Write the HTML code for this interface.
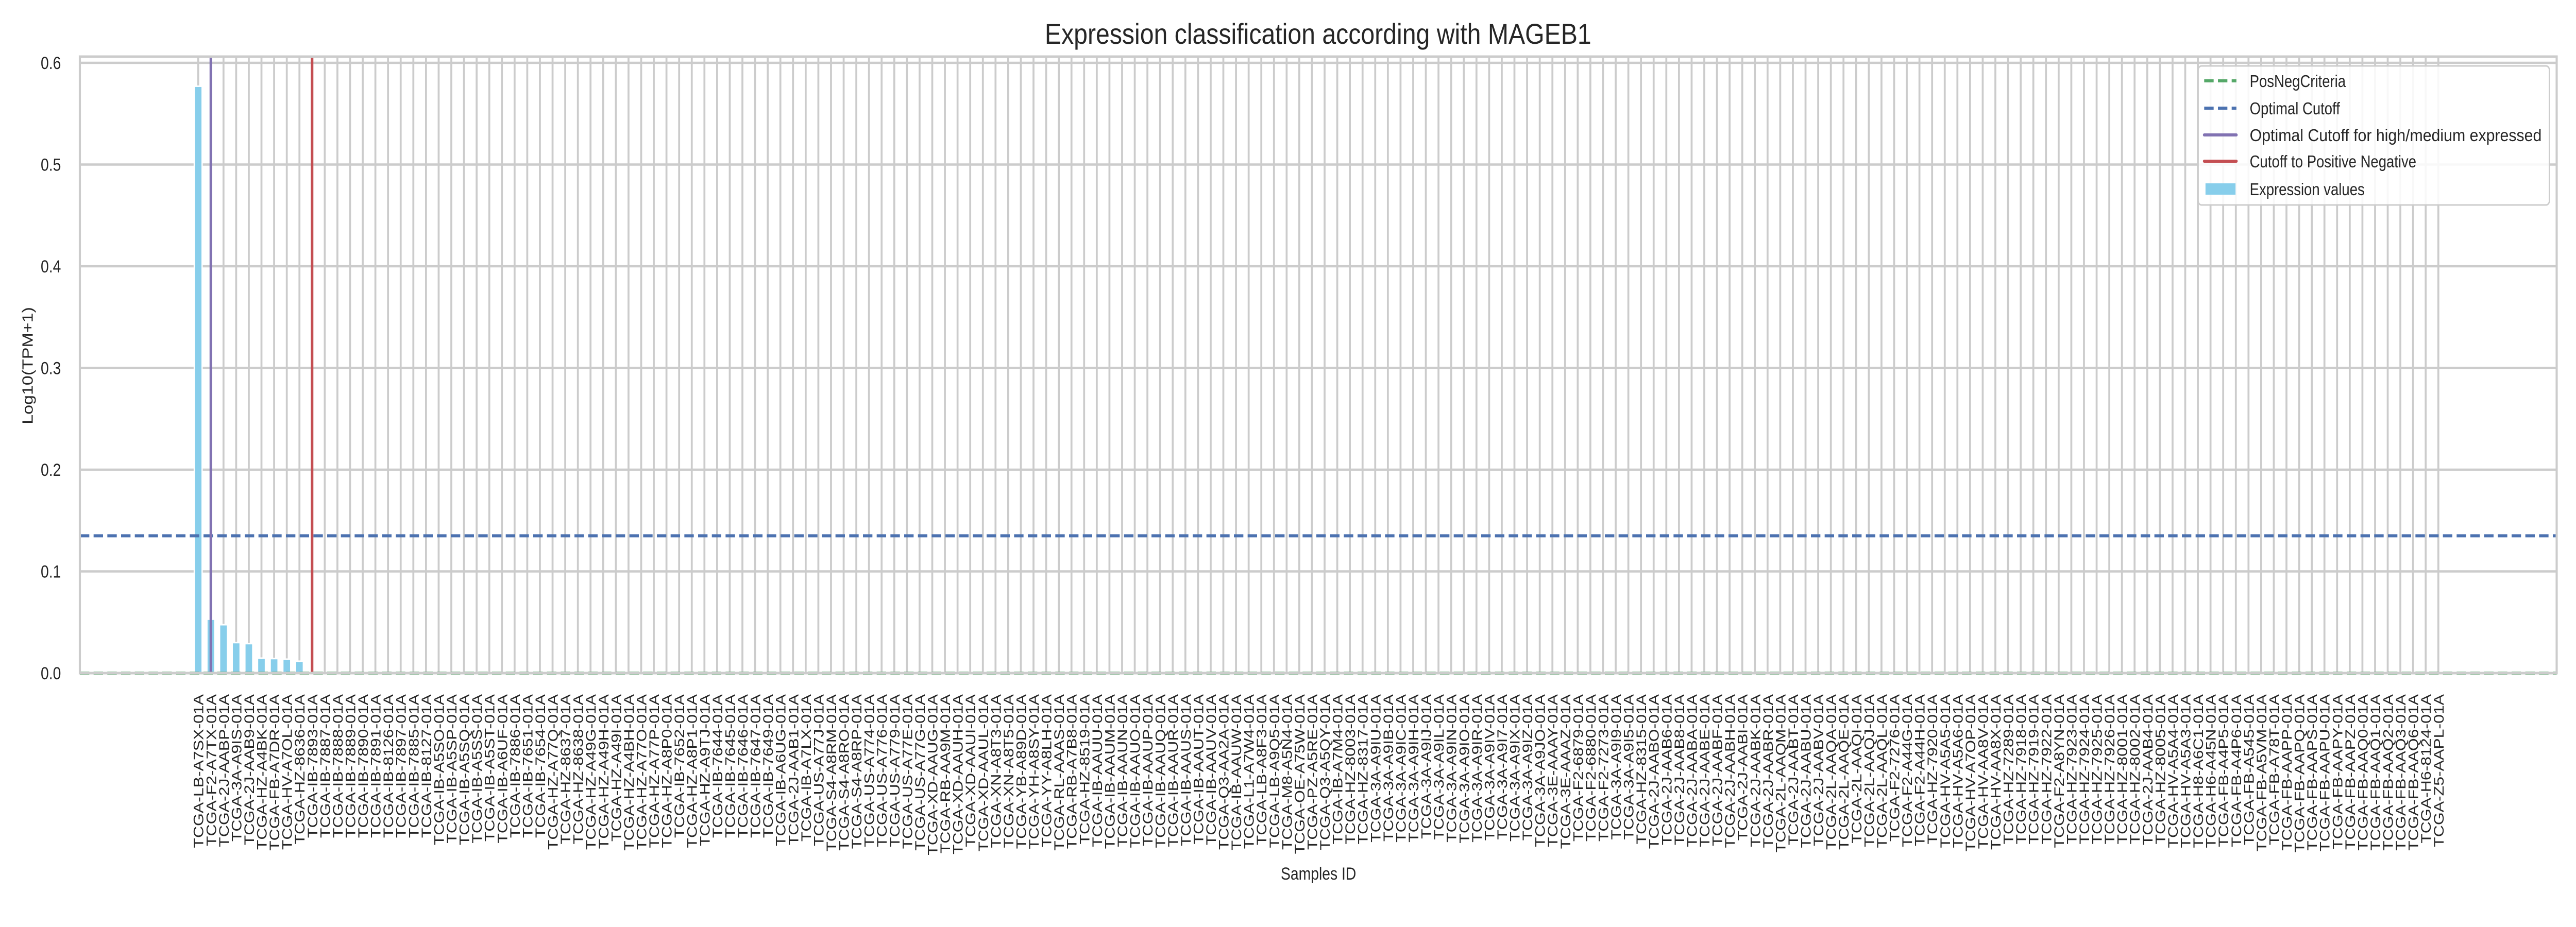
<!DOCTYPE html>
<html><head><meta charset="utf-8"><style>
html,body{margin:0;padding:0;background:#fff;width:100vw;height:100vh;overflow:hidden;}
svg{display:block;width:100vw;height:100vh;font-family:"Liberation Sans",Arial,sans-serif;}
</style></head><body>
<svg id="chart" viewBox="0 0 6000 1800" preserveAspectRatio="none" xmlns="http://www.w3.org/2000/svg">
<rect x="0" y="0" width="6000" height="1800" fill="#fff"/>
<g id="grid"></g>
<g id="bars"></g>
<g id="lines"></g>
<g id="axes"></g>
<text x="3070" y="85" text-anchor="middle" font-size="56" fill="#262626" textLength="1273" lengthAdjust="spacingAndGlyphs">Expression classification according with MAGEB1</text>
<text x="3071" y="1708" text-anchor="middle" font-size="34" fill="#262626">Samples ID</text>
<text x="0" y="0" transform="translate(76,710) rotate(-90)" text-anchor="middle" font-size="34" fill="#262626">Log10(TPM+1)</text>
<g id="legend">
<rect x="5120" y="128" width="818" height="270" rx="8" fill="#fff" fill-opacity="0.85" stroke="#cccccc" stroke-width="3"/>
<g><line x1="5134" y1="157" x2="5209" y2="157" stroke="#55a868" stroke-width="6" stroke-dasharray="22,10"/><text x="5240" y="169" font-size="33" fill="#262626">PosNegCriteria</text></g>
<g><line x1="5134" y1="210" x2="5209" y2="210" stroke="#4c72b0" stroke-width="6" stroke-dasharray="22,10"/><text x="5240" y="222" font-size="33" fill="#262626">Optimal Cutoff</text></g>
<g><line x1="5134" y1="262" x2="5209" y2="262" stroke="#8172b2" stroke-width="6" stroke-linecap="round"/><text x="5240" y="274" font-size="33" fill="#262626" textLength="680" lengthAdjust="spacingAndGlyphs">Optimal Cutoff for high/medium expressed</text></g>
<g><line x1="5134" y1="313" x2="5209" y2="313" stroke="#c44e52" stroke-width="6" stroke-linecap="round"/><text x="5240" y="325" font-size="33" fill="#262626">Cutoff to Positive Negative</text></g>
<g><rect x="5137" y="356" width="70" height="22" fill="#87ceeb"/><text x="5240" y="379" font-size="33" fill="#262626">Expression values</text></g>
</g>
</svg>
<script>
const categories = ["LB-A7SX","F2-A7TX","2J-AABP","3A-A9IS","2J-AAB9","HZ-A4BK","FB-A7DR","HV-A7OL","HZ-8636",
"IB-7893","IB-7887","IB-7888","IB-7889","IB-7890","IB-7891","IB-8126","IB-7897","IB-7885","IB-8127",
"IB-A5SO","IB-A5SP","IB-A5SQ","IB-A5SS","IB-A5ST","IB-A6UF","IB-7886","IB-7651","IB-7654",
"HZ-A77Q","HZ-8637","HZ-8638","HZ-A49G","HZ-A49H","HZ-A49I","HZ-A4BH","HZ-A77O","HZ-A77P","HZ-A8P0",
"IB-7652","HZ-A8P1","HZ-A9TJ","IB-7644","IB-7645","IB-7646","IB-7647","IB-7649","IB-A6UG","2J-AAB1",
"IB-A7LX","US-A77J","S4-A8RM","S4-A8RO","S4-A8RP","US-A774","US-A776","US-A779","US-A77E","US-A77G",
"XD-AAUG","RB-AA9M","XD-AAUH","XD-AAUI","XD-AAUL","XN-A8T3","XN-A8T5","YB-A89D","YH-A8SY",
"YY-A8LH","RL-AAAS","RB-A7B8","HZ-8519","IB-AAUU","IB-AAUM","IB-AAUN","IB-AAUO","IB-AAUP","IB-AAUQ",
"IB-AAUR","IB-AAUS","IB-AAUT","IB-AAUV","Q3-AA2A","IB-AAUW","L1-A7W4","LB-A8F3","LB-A9Q5","M8-A5N4",
"OE-A75W","PZ-A5RE","Q3-A5QY","IB-A7M4","HZ-8003","HZ-8317","3A-A9IU","3A-A9IB","3A-A9IC","3A-A9IH",
"3A-A9IJ","3A-A9IL","3A-A9IN","3A-A9IO","3A-A9IR","3A-A9IV","3A-A9I7","3A-A9IX","3A-A9IZ","3A-A9JO",
"3E-AAAY","3E-AAAZ","F2-6879","F2-6880","F2-7273","3A-A9I9","3A-A9I5","HZ-8315","2J-AABO","2J-AAB6",
"2J-AAB8","2J-AABA","2J-AABE","2J-AABF","2J-AABH","2J-AABI","2J-AABK","2J-AABR","2L-AAQM","2J-AABT",
"2J-AABU","2J-AABV","2L-AAQA","2L-AAQE","2L-AAQI","2L-AAQJ","2L-AAQL","F2-7276","F2-A44G","F2-A44H",
"HZ-7920","HV-A5A5","HV-A5A6","HV-A7OP","HV-AA8V","HV-AA8X","HZ-7289","HZ-7918","HZ-7919","HZ-7922",
"F2-A8YN","HZ-7923","HZ-7924","HZ-7925","HZ-7926","HZ-8001","HZ-8002","2J-AAB4","HZ-8005","HV-A5A4",
"HV-A5A3","H8-A6C1","H6-A45N","FB-A4P5","FB-A4P6","FB-A545","FB-A5VM","FB-A78T","FB-AAPP","FB-AAPQ",
"FB-AAPS","FB-AAPU","FB-AAPY","FB-AAPZ","FB-AAQ0","FB-AAQ1","FB-AAQ2","FB-AAQ3","FB-AAQ6","H6-8124","Z5-AAPL"];
const topValues = [0.577,0.053,0.0476,0.030,0.029,0.0147,0.0143,0.0137,0.0117];
const yTicks = [0.0,0.1,0.2,0.3,0.4,0.5,0.6];
const optimalCutoff = 0.135;
const posNegCriteria = 0.0;
const highMedIndex = 1;
const posNegIndex = 9;

const values = categories.map((c,i)=> i < topValues.length ? topValues[i] : 0);
const labels = categories.map(c => "TCGA-" + c + "-01A");

const NS="http://www.w3.org/2000/svg";
const L=186, R=5955, T=110, B=1307;
const xmin=-9.35, xmax=categories.length-1+9.35;
const yZero=1307, yPerUnit=1975;
function xs(i){return L+(i-xmin)/(xmax-xmin)*(R-L);}
function ys(v){return yZero-v*yPerUnit;}
function mk(tag,attrs,parent){const e=document.createElementNS(NS,tag);for(const k in attrs)e.setAttribute(k,attrs[k]);parent.appendChild(e);return e;}
const grid=document.getElementById('grid'),bars=document.getElementById('bars'),lines=document.getElementById('lines'),axes=document.getElementById('axes');
const step=(R-L)/(xmax-xmin);

yTicks.forEach(v=>{
  const g=mk('line',{x1:L,x2:R,y1:ys(v),y2:ys(v),stroke:'#cccccc','stroke-width':4.5},grid);
  
  
  const t=mk('text',{x:142,y:ys(v)+12,'text-anchor':'end','font-size':34,fill:'#262626'},axes);
  
  
  t.textContent=v.toFixed(1);
});
categories.forEach((c,i)=>{
  const x=xs(i);
  const g=mk('line',{x1:x,x2:x,y1:T,y2:B,stroke:'#cccccc','stroke-width':4.5},grid);
  
  
  const bw=step*0.62;
  const h=ys(0)-ys(values[i]);
  const b=mk('rect',{x:x-bw/2,y:ys(values[i]),width:bw,height:Math.max(h,0),fill:'#87ceeb',stroke:'#fff','stroke-width':h>0?3:0},bars);
  
  
  const t=mk('text',{x:0,y:0,transform:'translate('+(x+12)+',1348) rotate(-90)','text-anchor':'end','font-size':32,fill:'#262626'},axes);
  
  
  t.textContent=labels[i];
});
const sp=mk('rect',{x:L,y:T,width:R-L,height:B-T,fill:'none',stroke:'#cccccc','stroke-width':5},axes);


let l=mk('line',{x1:L,x2:R,y1:ys(posNegCriteria),y2:ys(posNegCriteria),stroke:'#55a868','stroke-width':6,'stroke-dasharray':'22,10'},lines);


l=mk('line',{x1:L,x2:R,y1:ys(optimalCutoff),y2:ys(optimalCutoff),stroke:'#4c72b0','stroke-width':6,'stroke-dasharray':'22,10'},lines);


l=mk('line',{x1:xs(highMedIndex),x2:xs(highMedIndex),y1:T,y2:B,stroke:'#8172b2','stroke-width':6},lines);


l=mk('line',{x1:xs(posNegIndex),x2:xs(posNegIndex),y1:T,y2:B,stroke:'#c44e52','stroke-width':6},lines);


</script>
</body></html>
